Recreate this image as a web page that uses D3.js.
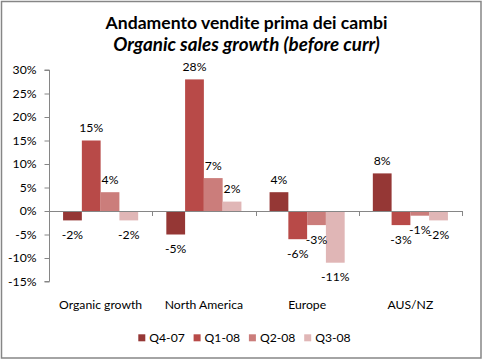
<!DOCTYPE html>
<html><head><meta charset="utf-8">
<script src="https://cdn.jsdelivr.net/npm/d3@7"></script>
<style>body{margin:0;background:#fff}svg{display:block}text{font-family:Lato,"DejaVu Sans",sans-serif;fill:#000}</style>
</head><body>
<svg id="c" width="483" height="360"></svg>
<script>
const categories = ["Organic growth","North America","Europe","AUS/NZ"];
const series = ["Q4-07","Q1-08","Q2-08","Q3-08"];
const q407 = [-2,-5,4,8];
const q108 = [15,28,-6,-3];
const q208 = [4,7,-3,-1];
const q308 = [-2,2,-11,-2];
const yTicks = [-15,-10,-5,0,5,10,15,20,25,30];
const colors = ["#953735","#B84A48","#CB7D7B","#E0B6B6"];
const values = [q407,q108,q208,q308];

const svg = d3.select("#c");
svg.append("rect").attr("x",1.5).attr("y",1.5).attr("width",479.5).attr("height",356.5)
  .attr("fill","#fff").attr("stroke","#868686").attr("stroke-width",1.5);

function fit(t, w){ const n=t.node(); let fs=parseFloat(t.attr("font-size")); const L=n.getComputedTextLength(); t.attr("font-size", fs*w/L); }
const t1 = svg.append("text").attr("x",246.5).attr("y",28.5).attr("text-anchor","middle")
  .attr("font-weight","bold").attr("font-size",16).text("Andamento vendite prima dei cambi");
fit(t1,282);
const t2 = svg.append("text").attr("x",246.5).attr("y",50.5).attr("text-anchor","middle")
  .attr("font-weight","bold").attr("font-style","italic").attr("font-size",16).text("Organic sales growth (before curr)");
fit(t2,267);

const y = d3.scaleLinear().domain([-15,30]).range([281.5,70]);
const x0 = d3.scaleBand().domain(categories).range([49,462]).paddingInner(0).paddingOuter(0);
const x1 = d3.scaleBand().domain(series).range([0,x0.bandwidth()]).paddingInner(0).paddingOuter(0.75);

const fs = 12.2;
// y axis
const yAxis = d3.axisLeft(y).tickValues(yTicks).tickSize(5).tickFormat(d=>d+"%");
const ga = svg.append("g").attr("transform","translate(49.5,0)").call(yAxis);
ga.select(".domain").attr("stroke","#868686").attr("d","M-5,"+y(-15)+"H0V"+y(30)+"H-5");
ga.selectAll(".tick line").attr("stroke","#868686");
ga.selectAll(".tick text").attr("font-size",fs).attr("font-family","Lato").attr("x",-13).attr("fill","#000");

// bars
const g = svg.append("g");
categories.forEach((c,ci)=>{
  series.forEach((s,si)=>{
    const v = values[si][ci];
    const bx = x0(c)+x1(s);
    g.append("rect").attr("x",bx).attr("width",x1.bandwidth())
      .attr("y",y(Math.max(0,v))).attr("height",Math.abs(y(v)-y(0)))
      .attr("fill",colors[si]);
  });
});
// x axis
const xa = svg.append("g");
xa.append("line").attr("x1",49).attr("x2",462).attr("y1",y(0)+0.5).attr("y2",y(0)+0.5).attr("stroke","#868686");
[...categories.map(c=>x0(c)), 462].forEach((xx,i)=>{
  if(i===0) return;
  xa.append("line").attr("x1",Math.round(xx)+0.5).attr("x2",Math.round(xx)+0.5).attr("y1",y(0)).attr("y2",y(0)+5).attr("stroke","#868686");
});
// labels
categories.forEach((c,ci)=>{
  series.forEach((s,si)=>{
    const v = values[si][ci];
    const cx = x0(c)+x1(s)+x1.bandwidth()/2;
    const ly = v>=0 ? y(v)-12.5 : y(v)+14.5;
    svg.append("text").attr("x",cx).attr("y",ly).attr("dy","0.35em").attr("text-anchor","middle")
      .attr("font-size",fs).text(v+"%");
  });
  svg.append("text").attr("x",x0(c)+x0.bandwidth()/2).attr("y",308.5).attr("text-anchor","middle")
    .attr("font-size",fs).text(c);
});
// legend
const lx = d3.scaleBand().domain(series).range([138.3,359.5]);
series.forEach((s,si)=>{
  svg.append("rect").attr("x",lx(s)).attr("y",334.3).attr("width",7).attr("height",7).attr("fill",colors[si]);
  svg.append("text").attr("x",lx(s)+11).attr("y",342).attr("font-size",fs).text(s);
});
</script>
</body></html>
